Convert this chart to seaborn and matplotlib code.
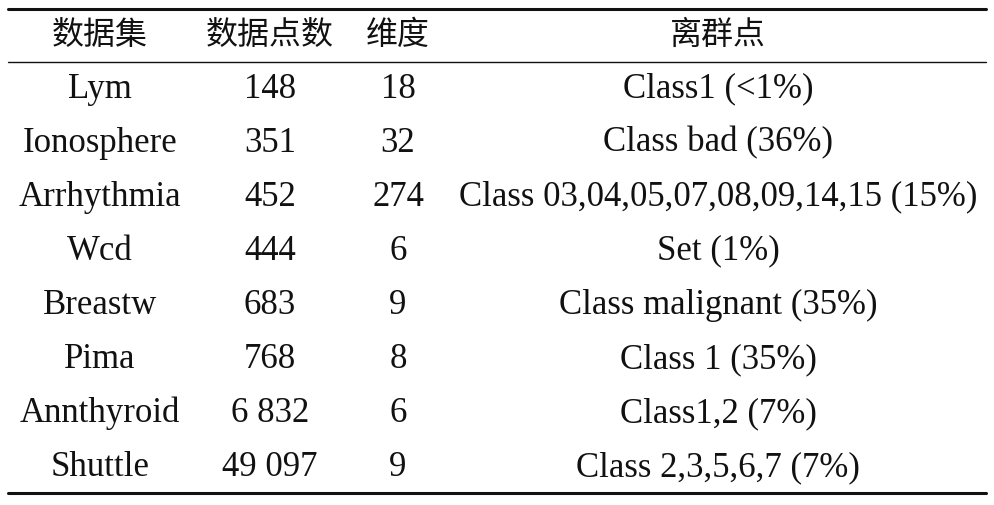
import matplotlib
matplotlib.use("Agg")
import matplotlib.pyplot as plt
import seaborn as sns

sns.set_theme(style="white")
plt.rcParams['font.family'] = ['Liberation Serif', 'Noto Sans CJK SC', 'DejaVu Sans']

headers = ["数据集", "数据点数", "维度", "离群点"]
datasets = ["Lym", "Ionosphere", "Arrhythmia", "Wcd", "Breastw", "Pima", "Annthyroid", "Shuttle"]
points = ["148", "351", "452", "444", "683", "768", "6 832", "49 097"]
dims = ["18", "32", "274", "6", "9", "8", "6", "9"]
outliers = ["Class1 (<1%)", "Class bad (36%)", "Class 03,04,05,07,08,09,14,15 (15%)",
            "Set (1%)", "Class malignant (35%)", "Class 1 (35%)", "Class1,2 (7%)",
            "Class 2,3,5,6,7 (7%)"]

col_x = [100, 270, 398, 718]
header_y = 35
row_y0, row_dy = 89, 54.1

fig = plt.figure(figsize=(9.94, 5.05), dpi=100)
ax = fig.add_axes([0, 0, 1, 1])
ax.set_xlim(0, 994)
ax.set_ylim(505, 0)
ax.axis("off")

fs = 25
for x, h in zip(col_x, headers):
    ax.text(x, header_y, h, ha="center", va="center", fontsize=23,
            family=['Noto Sans CJK SC', 'DejaVu Sans'], color="#111", fontweight="light")
cols = [datasets, points, dims, outliers]
for i in range(len(datasets)):
    y = row_y0 + i * row_dy
    for x, col in zip(col_x, cols):
        ax.text(x, y, col[i], ha="center", va="center", fontsize=fs, color="#111")

ax.plot([8, 986], [9, 9], color="#111", lw=2.2)
ax.plot([8, 986], [62, 62], color="#111", lw=1.0)
ax.plot([8, 986], [493, 493], color="#111", lw=2.2)

fig.savefig("out.png", dpi=100, facecolor="white")
